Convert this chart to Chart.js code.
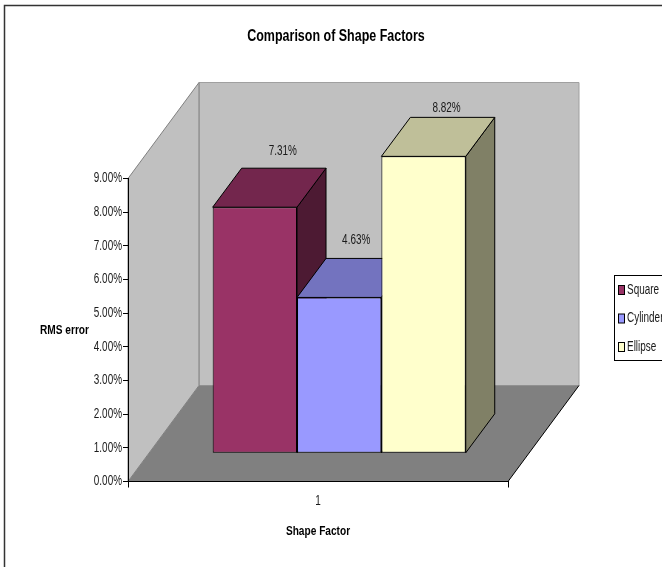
<!DOCTYPE html>
<html>
<head>
<meta charset="utf-8">
<title>Comparison of Shape Factors</title>
<script src="https://cdn.jsdelivr.net/npm/chart.js@4/dist/chart.umd.min.js"></script>
<style>
  html, body { margin: 0; padding: 0; background: #fff; overflow: hidden; }
  canvas { display: block; }
</style>
</head>
<body>
<canvas id="shapeChart" width="662" height="567"></canvas>
<script>
const categories = ['1'];
const seriesNames = ['Square', 'Cylinder', 'Ellipse'];
const squareValues = [7.31];
const cylinderValues = [4.63];
const ellipseValues = [8.82];
const yTickStep = 1;
const yMax = 9;

const frontColors = ['#993366', '#9999FF', '#FFFFCC'];
const topColors = ['#73264D', '#7373BF', '#BFBF99'];
const sideColors = ['#4D1A33', '#4D4D80', '#808066'];
const labelShifts = [[-1, -17], [-12, -18], [-6, -9]];

const fontFamily = '"Liberation Sans", Arial, sans-serif';
Chart.defaults.font.family = fontFamily;
Chart.defaults.color = '#1a1a1a';

// the bars stand inside the box, so they are pushed back from the front axes
const barShift = { x: 21.2, y: -28.2 };
const barDepth = { x: 29, y: -39 };
const wallDepth = { x: 71, y: -96 };

function fillPoly(ctx, points, fill, stroke) {
    ctx.beginPath();
    points.forEach((p, i) => i ? ctx.lineTo(p[0], p[1]) : ctx.moveTo(p[0], p[1]));
    ctx.closePath();
    ctx.fillStyle = fill;
    ctx.fill();
    if (stroke) {
        ctx.strokeStyle = stroke;
        ctx.lineWidth = 1;
        ctx.stroke();
    }
}

// no narrow Arial here, so every text is squeezed sideways when it is painted
function squeezeText(ctx) {
    const rawFillText = ctx.fillText;
    ctx.fillText = function (text, x, y) {
        const squeeze = this.font.includes('bold') ? 0.78 : 0.71;
        this.save();
        this.translate(x, y);
        this.scale(squeeze, 1);
        rawFillText.call(this, text, 0, 0);
        this.restore();
    };
}

const box3d = {
    id: 'box3d',
    beforeInit(chart) {
        squeezeText(chart.ctx);
    },
    beforeDraw(chart) {
        const ctx = chart.ctx;
        const { left, right, top, bottom } = chart.chartArea;
        const dx = wallDepth.x, dy = wallDepth.y;

        // page frame, only top and left show in the crop
        ctx.save();
        ctx.strokeStyle = '#333';
        ctx.lineWidth = 1.5;
        ctx.beginPath();
        ctx.moveTo(4.5, 567);
        ctx.lineTo(4.5, 5.5);
        ctx.lineTo(662, 5.5);
        ctx.stroke();

        fillPoly(ctx, [[left + dx, top + dy], [right + dx, top + dy], [right + dx, bottom + dy], [left + dx, bottom + dy]], '#C0C0C0', '#A0A0A0');
        fillPoly(ctx, [[left, top], [left + dx, top + dy], [left + dx, bottom + dy], [left, bottom]], '#C0C0C0', '#808080');
        fillPoly(ctx, [[left, bottom], [right, bottom], [right + dx, bottom + dy], [left + dx, bottom + dy]], '#808080');
        ctx.strokeStyle = '#000';
        ctx.beginPath();
        ctx.moveTo(right, bottom);
        ctx.lineTo(right + dx, bottom + dy);
        ctx.stroke();
        ctx.restore();
    },
    beforeDatasetsDraw(chart) {
        const ctx = chart.ctx;
        ctx.save();
        ctx.translate(barShift.x, barShift.y);
        const dx = barDepth.x, dy = barDepth.y;
        chart.data.datasets.forEach((ds, i) => {
            const bar = chart.getDatasetMeta(i).data[0];
            const l = bar.x - bar.width / 2, r = bar.x + bar.width / 2;
            fillPoly(ctx, [[r, bar.y], [r + dx, bar.y + dy], [r + dx, bar.base + dy], [r, bar.base]], sideColors[i], '#000');
            fillPoly(ctx, [[l, bar.y], [l + dx, bar.y + dy], [r + dx, bar.y + dy], [r, bar.y]], topColors[i], '#000');
        });
    },
    afterDatasetsDraw(chart) {
        const ctx = chart.ctx;
        ctx.restore();

        // value labels above the top faces
        ctx.save();
        ctx.font = '14px ' + fontFamily;
        ctx.fillStyle = '#1a1a1a';
        ctx.textAlign = 'center';
        ctx.textBaseline = 'middle';
        chart.data.datasets.forEach((ds, i) => {
            const bar = chart.getDatasetMeta(i).data[0];
            const x = bar.x + barShift.x + barDepth.x + labelShifts[i][0];
            const y = bar.y + barShift.y + barDepth.y + labelShifts[i][1];
            ctx.fillText(ds.data[0].toFixed(2) + '%', x, y);
        });
        ctx.restore();
    },
    afterDraw(chart) {
        const ctx = chart.ctx;
        ctx.save();

        // horizontal y axis title
        ctx.font = 'bold 13px ' + fontFamily;
        ctx.fillStyle = '#000';
        ctx.textAlign = 'center';
        ctx.textBaseline = 'middle';
        ctx.fillText('RMS error', 64.5, 330);

        // legend, runs off the right edge like the original
        ctx.strokeStyle = '#000';
        ctx.lineWidth = 1;
        ctx.strokeRect(614.5, 275.5, 60, 85);
        ctx.font = '14px ' + fontFamily;
        ctx.textAlign = 'left';
        chart.data.datasets.forEach((ds, i) => {
            const y = 290 + i * 28.5;
            ctx.fillStyle = ds.backgroundColor;
            ctx.fillRect(618.5, y - 4.5, 6, 9);
            ctx.strokeRect(618.5, y - 4.5, 6, 9);
            ctx.fillStyle = '#1a1a1a';
            ctx.fillText(ds.label, 627, y);
        });
        ctx.restore();
    }
};

new Chart(document.getElementById('shapeChart'), {
    type: 'bar',
    data: {
        labels: categories,
        datasets: [
            { label: seriesNames[0], data: squareValues, backgroundColor: frontColors[0] },
            { label: seriesNames[1], data: cylinderValues, backgroundColor: frontColors[1] },
            { label: seriesNames[2], data: ellipseValues, backgroundColor: frontColors[2] }
        ]
    },
    options: {
        responsive: false,
        animation: false,
        layout: { padding: { left: 10 } },
        datasets: {
            bar: {
                categoryPercentage: 0.666,
                barPercentage: 1,
                borderColor: '#000',
                borderWidth: 1,
                borderSkipped: false
            }
        },
        plugins: {
            legend: { display: false },
            tooltip: { enabled: false },
            title: {
                display: true,
                text: 'Comparison of Shape Factors',
                font: { size: 16, weight: 'bold' },
                color: '#000',
                padding: { top: 27, bottom: 132.3 }
            }
        },
        scales: {
            x: {
                grid: { drawOnChartArea: false, color: '#000', tickLength: 6 },
                border: { color: '#000' },
                ticks: { font: { size: 14 }, padding: 5, maxRotation: 0 },
                title: {
                    display: true,
                    text: 'Shape Factor',
                    font: { size: 13, weight: 'bold' },
                    color: '#000',
                    padding: { top: 0, bottom: 28 }
                },
                afterFit(scale) { scale.height = 85.5; }
            },
            y: {
                min: 0,
                max: yMax,
                grid: { drawOnChartArea: false, color: '#000', tickLength: 5 },
                border: { color: '#000' },
                ticks: {
                    stepSize: yTickStep,
                    font: { size: 14 },
                    padding: 1,
                    callback: value => value.toFixed(2) + '%'
                },
                afterFit(scale) { scale.width = 118; }
            },
            // empty axis that only keeps the room for the legend on the right
            legendRoom: {
                position: 'right',
                display: true,
                grid: { display: false },
                border: { display: false },
                ticks: { display: false },
                afterFit(scale) { scale.width = 154; }
            }
        }
    },
    plugins: [box3d]
});
</script>
</body>
</html>
